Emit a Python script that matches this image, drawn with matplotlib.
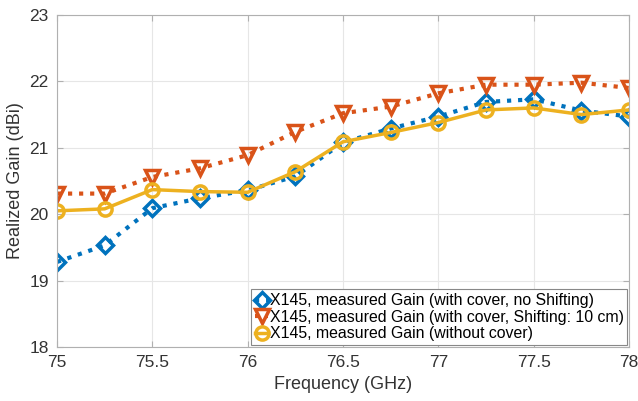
import numpy as np
import matplotlib.pyplot as plt

plt.rcParams['font.family'] = ['Liberation Sans', 'DejaVu Sans']

freq = [75, 75.25, 75.5, 75.75, 76, 76.25, 76.5, 76.75, 77, 77.25, 77.5, 77.75, 78]
gain_no_shift = [19.28, 19.53, 20.09, 20.24, 20.36, 20.57, 21.08, 21.29, 21.47, 21.69, 21.73, 21.56, 21.47]
gain_shift_10 = [20.31, 20.31, 20.56, 20.69, 20.89, 21.24, 21.52, 21.62, 21.82, 21.95, 21.95, 21.98, 21.9]
gain_no_cover = [20.05, 20.08, 20.37, 20.34, 20.33, 20.64, 21.09, 21.23, 21.38, 21.57, 21.6, 21.5, 21.57]

labels = ['X145, measured Gain (with cover, no Shifting)',
          'X145, measured Gain (with cover, Shifting: 10 cm)',
          'X145, measured Gain (without cover)']

fig = plt.figure(figsize=(6.38, 4.01), dpi=100)
ax = fig.add_axes([0.0893, 0.1347, 0.8967, 0.828])

ax.plot(freq, gain_no_shift, ls=':', color='#0072BD', lw=3, marker='D', ms=8.5,
        mfc='none', mew=2.5, label=labels[0])
ax.plot(freq, gain_shift_10, ls=':', color='#D95319', lw=3, marker='v', ms=10.5,
        mfc='none', mew=2.5, label=labels[1])
ax.plot(freq, gain_no_cover, ls='-', color='#EDB120', lw=2.5, marker='o', ms=9.5,
        mfc='none', mew=2.5, label=labels[2])

ax.set_xlim(75, 78)
ax.set_ylim(18, 23)
ax.set_xticks([75, 75.5, 76, 76.5, 77, 77.5, 78])
ax.set_xticklabels(['75', '75.5', '76', '76.5', '77', '77.5', '78'])
ax.set_yticks([18, 19, 20, 21, 22, 23])
ax.grid(True, color='#e6e6e6', lw=0.8)
ax.set_axisbelow(True)
for s in ax.spines.values():
    s.set_color('#b0b0b0')
ax.tick_params(direction='in', length=4, color='#b0b0b0', labelsize=12.5,
               labelcolor='#333333', top=True, right=True, pad=6)
ax.set_xlabel('Frequency (GHz)', fontsize=13, color='#333333')
ax.set_ylabel('Realized Gain (dBi)', fontsize=13, color='#333333')

leg = ax.legend(loc='lower right', fontsize=11.4, handlelength=0.8, handletextpad=0.1,
                borderpad=0.25, labelspacing=0.1, fancybox=False, framealpha=1,
                edgecolor='#888888', borderaxespad=0.1)
leg.get_frame().set_linewidth(0.8)

plt.savefig('out.png', dpi=100)
